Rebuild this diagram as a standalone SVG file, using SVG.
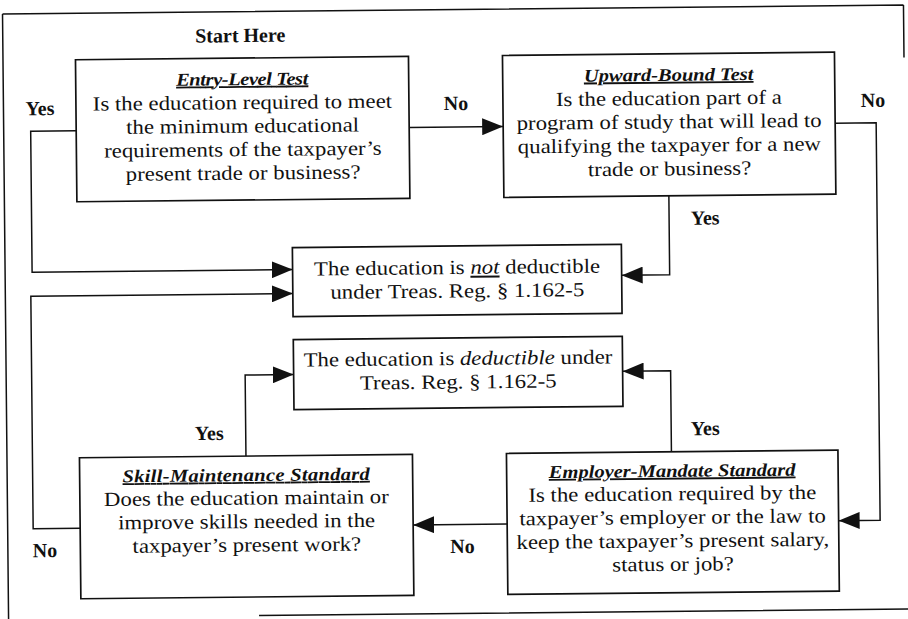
<svg xmlns="http://www.w3.org/2000/svg" width="908" height="619" viewBox="0 0 908 619">
<style>
  .box { fill: #ffffff; stroke: #111111; stroke-width: 1.7; }
  .frame { fill: none; stroke: #111111; stroke-width: 1.5; }
  .conn { fill: none; stroke: #111111; stroke-width: 1.5; marker-end: url(#arrow); }
  .body { font-family: "Liberation Serif", "DejaVu Serif", serif; font-size: 20px; fill: #111111; text-anchor: middle; }
  .title { font-family: "Liberation Serif", "DejaVu Serif", serif; font-size: 18px; font-weight: bold; font-style: italic; text-decoration: underline; fill: #111111; text-anchor: middle; }
  .lbl { font-family: "Liberation Serif", "DejaVu Serif", serif; font-size: 20px; font-weight: bold; fill: #111111; text-anchor: middle; }
</style>
<defs>
  <marker id="arrow" markerUnits="userSpaceOnUse" markerWidth="21" markerHeight="17" refX="21" refY="8.5" orient="auto">
    <path d="M0,0 L21,8.5 L0,17 Z" fill="#111111"/>
  </marker>
</defs>
<rect width="908" height="619" fill="#ffffff"/>
<g transform="rotate(-0.573 454 310)">
  <g id="frame">
    <path class="frame" d="M5.5,9.5 H906.5 M906.5,9.5 V62 M5.5,9.5 V630 M256,613.5 H930"/>
  </g>
  <g id="connectors">
    <path class="conn" d="M78,127 H32.5 V268 H293"/>
    <path class="conn" d="M411,127 H505"/>
    <path class="conn" d="M670,198 V277 H622"/>
    <path class="conn" d="M836.5,127 H878 V524.5 H836.5"/>
    <path class="conn" d="M670,454 V373 H622"/>
    <path class="conn" d="M505,524.5 H411"/>
    <path class="conn" d="M244.5,454 V373 H293"/>
    <path class="conn" d="M78,524.5 H31 V292 H293"/>
  </g>
  <g id="labels">
    <text class="lbl" x="243" y="40">Start Here</text>
    <text class="lbl" x="42" y="111">Yes</text>
    <text class="lbl" x="458" y="110">No</text>
    <text class="lbl" x="875" y="111">No</text>
    <text class="lbl" x="706" y="227">Yes</text>
    <text class="lbl" x="208" y="437.5">Yes</text>
    <text class="lbl" x="704" y="437.5">Yes</text>
    <text class="lbl" x="42.5" y="553">No</text>
    <text class="lbl" x="460" y="553">No</text>
  </g>
  <g id="entry-level">
    <rect class="box" x="78" y="56" width="333" height="142"/>
    <g transform="translate(244.5 0) scale(1.14 1)">
      <text class="title" x="0" y="83" textLength="116">Entry-Level Test</text>
      <text class="body" x="0" y="107">Is the education required to meet</text>
      <text class="body" x="0" y="130.5">the minimum educational</text>
      <text class="body" x="0" y="154">requirements of the taxpayer’s</text>
      <text class="body" x="0" y="177.5">present trade or business?</text>
    </g>
  </g>
  <g id="upward-bound">
    <rect class="box" x="505" y="56" width="332" height="142"/>
    <g transform="translate(671 0) scale(1.14 1)">
      <text class="title" x="0" y="83">Upward-Bound Test</text>
      <text class="body" x="0" y="107">Is the education part of a</text>
      <text class="body" x="0" y="130.5">program of study that will lead to</text>
      <text class="body" x="0" y="154">qualifying the taxpayer for a new</text>
      <text class="body" x="0" y="177.5">trade or business?</text>
    </g>
  </g>
  <g id="not-deductible">
    <rect class="box" x="293" y="246" width="329" height="69"/>
    <g transform="translate(457.5 0) scale(1.14 1)">
      <text class="body" x="0" y="274">The education is <tspan font-style="italic" text-decoration="underline">not</tspan> deductible</text>
      <text class="body" x="0" y="297.5">under Treas. Reg. § 1.162-5</text>
    </g>
  </g>
  <g id="deductible">
    <rect class="box" x="293" y="338" width="329" height="70"/>
    <g transform="translate(457.5 0) scale(1.14 1)">
      <text class="body" x="0" y="365">The education is <tspan font-style="italic">deductible</tspan> under</text>
      <text class="body" x="0" y="388.5">Treas. Reg. § 1.162-5</text>
    </g>
  </g>
  <g id="skill-maintenance">
    <rect class="box" x="78" y="454" width="333" height="141"/>
    <g transform="translate(244.5 0) scale(1.14 1)">
      <text class="title" x="0" y="479" textLength="217">Skill-Maintenance Standard</text>
      <text class="body" x="0" y="502.5">Does the education maintain or</text>
      <text class="body" x="0" y="526">improve skills needed in the</text>
      <text class="body" x="0" y="549.5">taxpayer’s present work?</text>
    </g>
  </g>
  <g id="employer-mandate">
    <rect class="box" x="505" y="454" width="331.5" height="141"/>
    <g transform="translate(670.5 0) scale(1.14 1)">
      <text class="title" x="0" y="479">Employer-Mandate Standard</text>
      <text class="body" x="0" y="502.5">Is the education required by the</text>
      <text class="body" x="0" y="526">taxpayer’s employer or the law to</text>
      <text class="body" x="0" y="549.5">keep the taxpayer’s present salary,</text>
      <text class="body" x="0" y="573">status or job?</text>
    </g>
  </g>
</g>
</svg>
